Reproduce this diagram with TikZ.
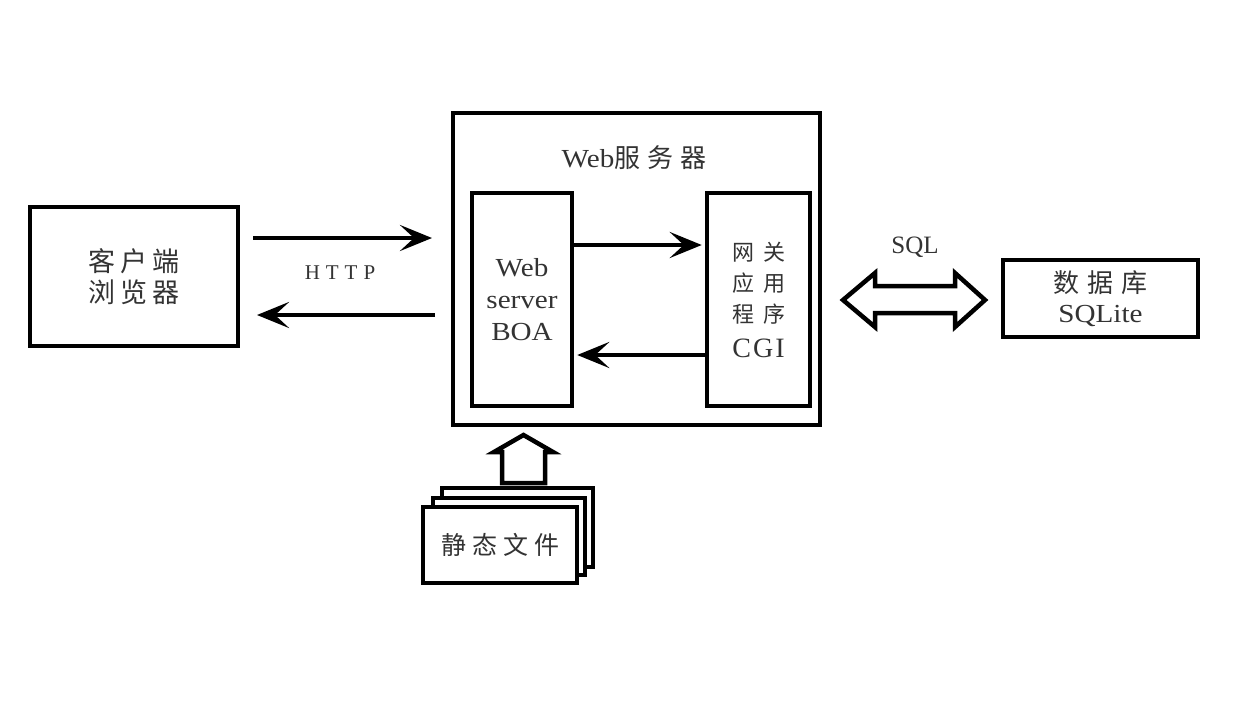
\documentclass[tikz,border=0pt]{standalone}
\usepackage{fontspec}
\setmainfont{Liberation Serif}
\newfontfamily\wide{Liberation Serif}[FakeStretch=1.12]
\newfontfamily\cjk{Noto Sans CJK SC}
\usetikzlibrary{arrows.meta}
\definecolor{ink}{HTML}{333333}
\begin{document}
\begin{tikzpicture}[x=1pt,y=-1pt,
  box/.style={draw=black,line width=4.5pt,fill=white,inner sep=0pt,text=ink,align=center},
  arr/.style={line width=4.5pt,-{Stealth[length=32pt,width=26pt,inset=14pt]}},
  lbl/.style={text=ink,inner sep=0pt,align=center},
  fat/.style={draw=black,line width=4.5pt,fill=white,line join=miter}]
\useasboundingbox[fill=white] (0,0) rectangle (1238,704);
% client
\node[box,minimum width=208pt,minimum height=139pt,font=\cjk\fontsize{27}{31}\selectfont] (client) at (134,276.5)
  {客\hspace{5pt}户\hspace{5pt}端\\浏\hspace{5pt}览\hspace{5pt}器};
% web server
\node[box,minimum width=367pt,minimum height=312pt] (web) at (636.5,269) {};
\node[lbl,font=\fontsize{26}{31}\selectfont] (webt) at (634,158) {{\wide Web}{\cjk 服\hspace{7pt}务\hspace{7pt}器}};
\node[box,minimum width=100pt,minimum height=213pt,font=\wide\fontsize{26}{32}\selectfont] (boa) at (522,299.5)
  {Web\\server\\BOA};
\node[box,minimum width=103pt,minimum height=213pt,font=\fontsize{22}{31}\selectfont] (cgi) at (758.5,299.5)
  {{\cjk 网\hspace{9pt}关}\\{\cjk 应\hspace{9pt}用}\\{\cjk 程\hspace{9pt}序}\\[4pt]{\fontsize{28}{31}\selectfont C\hspace{2pt}G\hspace{2pt}I}};
% database
\node[box,minimum width=195pt,minimum height=77pt,font=\fontsize{26}{30}\selectfont] (db) at (1100.5,298.5)
  {{\cjk 数\hspace{8pt}据\hspace{8pt}库}\\{\wide SQLite}};
% HTTP arrows
\coordinate (h1s) at (253,238);
\coordinate (h1e) at (432,238);
\coordinate (h2s) at (435,315);
\coordinate (h2e) at (257,315);
\draw[arr] (h1s) -- (h1e);
\draw[arr] (h2s) -- (h2e);
\node[lbl,font=\fontsize{21}{24}\selectfont] (http) at (340,273) {H\hspace{6pt}T\hspace{6pt}T\hspace{6pt}P};
% internal arrows
\draw[arr,shorten >=3pt] (boa.east |- 0,245) -- (cgi.west |- 0,245);
\draw[arr,shorten >=3pt] (cgi.west |- 0,355) -- (boa.east |- 0,355);
% SQL double arrow
\draw[fat] (843,300) -- (875,273) -- (875,286) -- (955,286) -- (955,273) -- (985,300)
  -- (955,327) -- (955,313) -- (875,313) -- (875,327) -- cycle;
\node[lbl,font=\fontsize{25}{30}\selectfont] (sql) at (915,247) {SQL};
% up arrow
\draw[fat] (502,483) -- (502,452) -- (494,452) -- (523.5,435) -- (553,452) -- (545,452) -- (545,483) -- cycle;
% static files
\draw[fat] (442,488) rectangle (593,567);
\draw[fat] (433,498) rectangle (585,575);
\node[box,minimum width=154pt,minimum height=76pt,font=\cjk\fontsize{25}{30}\selectfont] (files) at (500,545)
  {静\hspace{6pt}态\hspace{6pt}文\hspace{6pt}件};
\end{tikzpicture}
\end{document}
